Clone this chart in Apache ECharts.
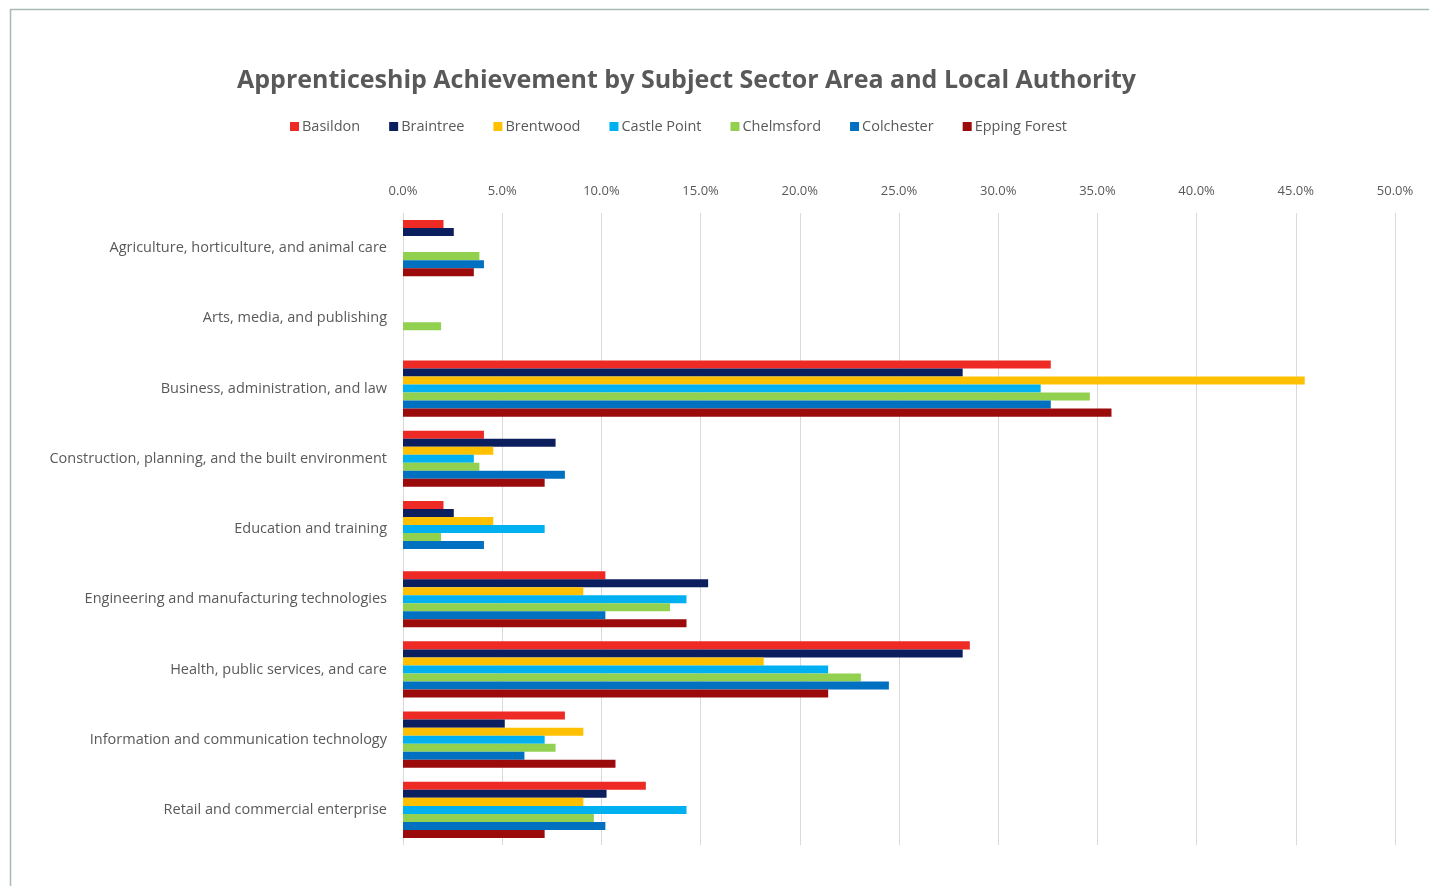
<!DOCTYPE html>
<html>
<head>
<meta charset="utf-8">
<title>Apprenticeship Achievement by Subject Sector Area and Local Authority</title>
<script src="https://cdn.jsdelivr.net/npm/echarts@6/dist/echarts.min.js"></script>
<style>
  html, body { margin: 0; padding: 0; background: #ffffff; }
  #chart { width: 1429px; height: 886px; }
</style>
</head>
<body>
<div id="chart"></div>
<script>
// Subject sector areas, listed top to bottom
const sectors = [
  'Agriculture, horticulture, and animal care',
  'Arts, media, and publishing',
  'Business, administration, and law',
  'Construction, planning, and the built environment',
  'Education and training',
  'Engineering and manufacturing technologies',
  'Health, public services, and care',
  'Information and communication technology',
  'Retail and commercial enterprise'
];

// Share of each authority's achievements by sector (%)
const basildon     = [2.04, 0, 32.65, 4.08, 2.04, 10.20, 28.57, 8.16, 12.24];
const braintree    = [2.56, 0, 28.21, 7.69, 2.56, 15.38, 28.21, 5.13, 10.26];
const brentwood    = [0, 0, 45.45, 4.55, 4.55, 9.09, 18.18, 9.09, 9.09];
const castlePoint  = [0, 0, 32.14, 3.57, 7.14, 14.29, 21.43, 7.14, 14.29];
const chelmsford   = [3.85, 1.92, 34.62, 3.85, 1.92, 13.46, 23.08, 7.69, 9.62];
const colchester   = [4.08, 0, 32.65, 8.16, 4.08, 10.20, 24.49, 6.12, 10.20];
const eppingForest = [3.57, 0, 35.71, 7.14, 0, 14.29, 21.43, 10.71, 7.14];

const authorities = ['Basildon', 'Braintree', 'Brentwood', 'Castle Point', 'Chelmsford', 'Colchester', 'Epping Forest'];
const values = [basildon, braintree, brentwood, castlePoint, chelmsford, colchester, eppingForest];
const colors = ['#EE2A24', '#0B1F5E', '#FFC000', '#00B0F0', '#92D050', '#0070C0', '#9B0B0B'];

const font = "'Open Sans', 'Noto Sans', sans-serif";
const textColor = '#595959';

const chart = echarts.init(document.getElementById('chart'), null, { renderer: 'canvas' });

chart.setOption({
  animation: false,
  color: colors,
  title: {
    text: 'Apprenticeship Achievement by Subject Sector Area and Local Authority',
    left: 232,
    top: 63,
    textStyle: { fontFamily: font, fontSize: 25, fontWeight: 'bold', color: textColor }
  },
  legend: {
    top: 114,
    left: 285,
    itemWidth: 9,
    itemHeight: 9,
    itemGap: 29,
    icon: 'rect',
    textStyle: { fontFamily: font, fontSize: 14.5, color: textColor, padding: [0, 0, 0, -2] },
    data: authorities
  },
  graphic: [{
    type: 'polyline',
    shape: { points: [[10.5, 886], [10.5, 9.5], [1429, 9.5]] },
    style: { stroke: '#a9b9b6', lineWidth: 1.5, fill: null },
    silent: true
  }],
  grid: { left: 403, right: 34, top: 213, bottom: 41, containLabel: false },
  xAxis: {
    type: 'value',
    position: 'top',
    min: 0,
    max: 50,
    interval: 5,
    axisLine: { show: false },
    axisTick: { show: false },
    axisLabel: {
      fontFamily: font, fontSize: 13, color: textColor, margin: 15,
      formatter: v => v.toFixed(1) + '%'
    },
    splitLine: { lineStyle: { color: '#d9d9d9', width: 1 } }
  },
  yAxis: {
    type: 'category',
    inverse: true,
    data: sectors,
    axisLine: { show: false },
    axisTick: { show: false },
    axisLabel: { fontFamily: font, fontSize: 14.5, color: textColor, margin: 16 }
  },
  series: authorities.map((name, i) => ({
    name,
    type: 'bar',
    data: values[i],
    barGap: '0%',
    barCategoryGap: '20%'
  }))
});
</script>
</body>
</html>
